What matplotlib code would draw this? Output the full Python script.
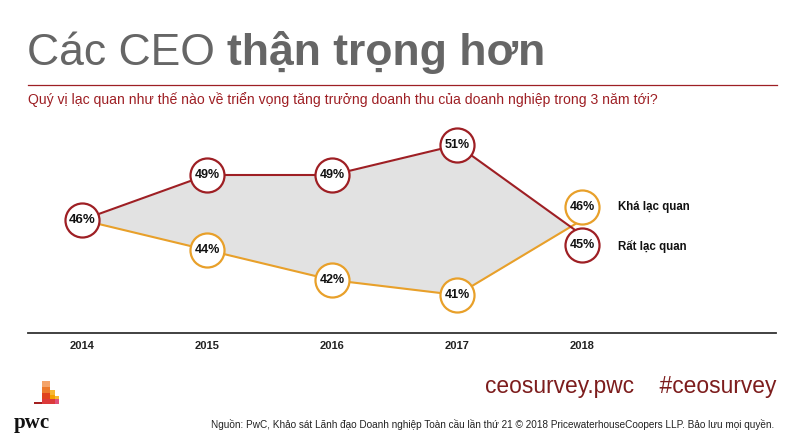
import matplotlib
matplotlib.use('Agg')
import matplotlib.pyplot as plt
import matplotlib.patches as mpatches
from matplotlib.transforms import offset_copy
import numpy as np

# data
years = [2014, 2015, 2016, 2017, 2018]
rat_lac_quan = [46, 49, 49, 51, 45]   # dark red
kha_lac_quan = [46, 44, 42, 41, 46]   # orange
series_names = ['Rất lạc quan', 'Khá lạc quan']

RED = '#9e1f24'
ORANGE = '#e8a02a'
GREY_TXT = '#666666'
SANS = ['Liberation Sans', 'DejaVu Sans']

plt.rcParams['font.family'] = SANS

fig = plt.figure(figsize=(8, 4.48), dpi=100)
W, H = 800, 448


def fx(px):
    return px / W


def fy(py):
    return 1 - py / H


# title, two weights
t1 = fig.text(fx(27), fy(65), 'Các CEO ', fontsize=32, color=GREY_TXT,
              ha='left', va='baseline')
fig.canvas.draw()
bb = t1.get_window_extent(fig.canvas.get_renderer())
fig.text(bb.x1 / W, fy(65), 'thận trọng hơn', fontsize=32, color=GREY_TXT,
         fontweight='bold', ha='left', va='baseline')

fig.add_artist(plt.Line2D([fx(28), fx(777)], [fy(85), fy(85)], color=RED, lw=0.9))
fig.text(fx(28), fy(104), 'Quý vị lạc quan như thế nào về triển vọng tăng trưởng doanh thu của doanh nghiệp trong 3 năm tới?',
         fontsize=10.1, color=RED, ha='left', va='baseline')

# main chart
ax = fig.add_axes([fx(28), 1 - 333 / H, fx(776 - 28), 213 / H])
ax.set_xlim(2014 - 54 / 125, 2014 + 694 / 125)
ax.set_ylim(51 - 188 / 15, 51 + 25 / 15)
for s in ['top', 'right', 'left']:
    ax.spines[s].set_visible(False)
ax.spines['bottom'].set_color('#333333')
ax.spines['bottom'].set_linewidth(1.3)
ax.set_yticks([])
ax.set_xticks(years)
ax.set_xticklabels([str(y) for y in years], fontsize=8, fontweight='bold', color='#222222')
ax.tick_params(axis='x', length=0, pad=6)

xs = np.array(years, dtype=float)
r = np.array(rat_lac_quan, dtype=float)
o = np.array(kha_lac_quan, dtype=float)
xf = np.linspace(xs[0], xs[-1], 400)
rf = np.interp(xf, xs, r)
of = np.interp(xf, xs, o)
ax.fill_between(xf, of, rf, where=rf >= of, interpolate=True, color='#e2e2e2', lw=0, zorder=1)

ax.plot(xs, o, color=ORANGE, lw=1.5, zorder=2)
ax.plot(xs, r, color=RED, lw=1.5, zorder=3)

# circles; the two 2018 circles are dodged apart so they don't overlap
dodge = {'o': 13, 'r': -10}


def circle(x, y, col, val, dy=0, z=4, fs=9):
    tr = offset_copy(ax.transData, fig=fig, x=0, y=dy, units='dots')
    ax.plot([x], [y], 'o', ms=24.5, mfc='white', mec=col, mew=1.6, transform=tr, zorder=z)
    ax.text(x, y, f'{val:.0f}%', transform=tr, ha='center', va='center',
            fontsize=fs, fontweight='bold', color='#111111', zorder=z + 1)


for i, x in enumerate(xs):
    last = i == len(xs) - 1
    if i > 0:
        circle(x, o[i], ORANGE, o[i], dy=dodge['o'] if last else 0)
    circle(x, r[i], RED, r[i], dy=dodge['r'] if last else 0, z=6,
           fs=9.5 if i == 0 else 9)

ax.annotate(series_names[1], (xs[-1], o[-1]), xytext=(26, dodge['o'] * 0.72),
            textcoords='offset points', va='center', ha='left',
            fontsize=8.3, fontweight='bold', color='#111111')
ax.annotate(series_names[0], (xs[-1], r[-1]), xytext=(26, dodge['r'] * 0.72 - 1),
            textcoords='offset points', va='center', ha='left',
            fontsize=8.3, fontweight='bold', color='#111111')

# footer
fig.text(fx(776), fy(393), 'ceosurvey.pwc    #ceosurvey', fontsize=16.4, color='#7d1d1d',
         ha='right', va='baseline')
fig.text(fx(774), fy(428), 'Nguồn: PwC, Khảo sát Lãnh đạo Doanh nghiệp Toàn cầu lần thứ 21 © 2018 PricewaterhouseCoopers LLP. Bảo lưu mọi quyền.',
         fontsize=7.2, color='#222222', ha='right', va='baseline')

# pwc logo blocks
blocks = [
    (42, 381, 8, 6, '#f4a46a'),
    (42, 387, 8, 6, '#ec7a2c'),
    (50, 390, 5, 5, '#f7b733'),
    (42, 393, 8, 6, '#e0421e'),
    (50, 395, 5, 4, '#f5a000'),
    (55, 396, 4, 3, '#f7b733'),
    (42, 399, 17, 5, '#dc3a3a'),
    (55, 399, 4, 5, '#e0507a'),
    (34, 402, 8, 2, '#a32020'),
]
for (x, y, w, h, c) in blocks:
    fig.add_artist(mpatches.Rectangle((fx(x), fy(y + h)), w / W, h / H, color=c, lw=0,
                                      transform=fig.transFigure))
fig.text(fx(14), fy(428), 'pwc', fontsize=15, fontweight='bold', family=['Liberation Serif', 'DejaVu Serif'],
         color='#111111', ha='left', va='baseline')

fig.savefig('out.png', dpi=100)
